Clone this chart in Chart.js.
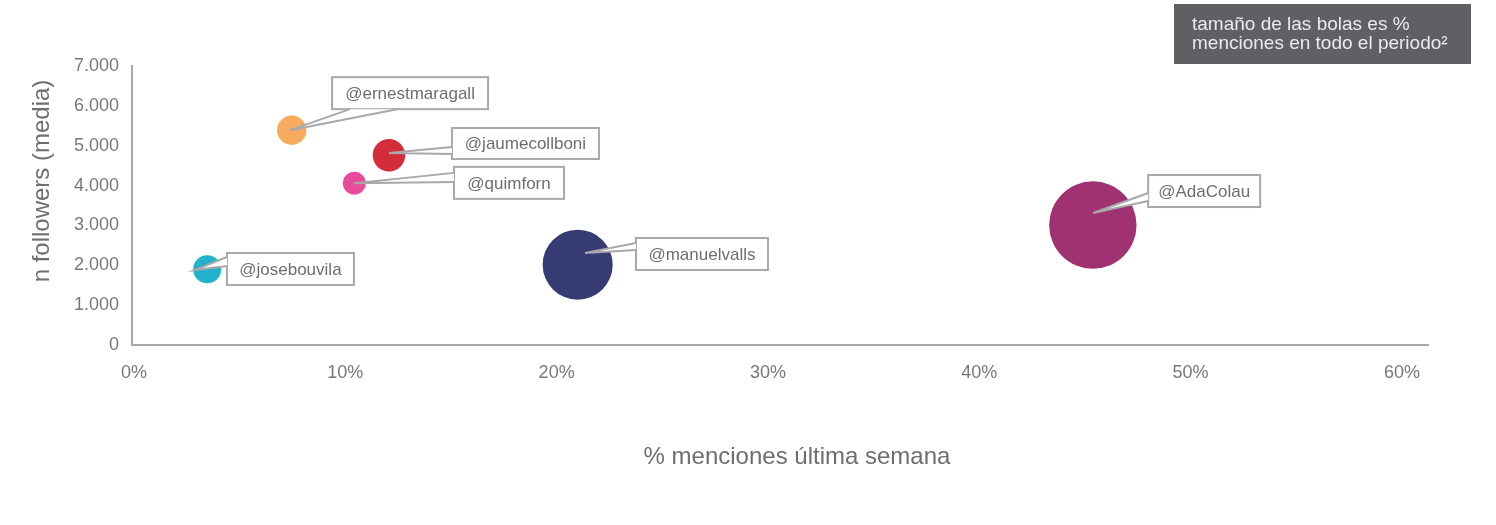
<!DOCTYPE html>
<html>
<head>
<meta charset="utf-8">
<script src="https://cdn.jsdelivr.net/npm/chart.js@4.4.0/dist/chart.umd.min.js"></script>
<style>
  body { margin: 0; background: #ffffff; }
  canvas { display: block; }
</style>
</head>
<body>
<canvas id="bubbleChart" width="1496" height="525"></canvas>
<script>
// data
var handles = ['@josebouvila', '@ernestmaragall', '@jaumecollboni', '@quimforn', '@manuelvalls', '@AdaColau'];
var mencionesSemana = [0.0356, 0.0756, 0.1216, 0.1052, 0.2109, 0.4547];
var followersMedia = [1900, 5390, 4760, 4060, 2015, 3010];
var mencionesPeriodo = [5.0, 5.5, 6.7, 3.3, 31.1, 48.4]; // bubble size, % of all mentions
var colores = ['#22b2cb', '#f6ab5e', '#d52c3c', '#ea4a9a', '#363b73', '#a13271'];
var xTicks = [0, 0.1, 0.2, 0.3, 0.4, 0.5, 0.6];
var yTicks = [0, 1000, 2000, 3000, 4000, 5000, 6000, 7000];

var FONT = "'Liberation Sans', Arial, sans-serif";
var GRIS_TEXTO = '#77787b';
var GRIS_LINEA = '#a7a9ab';
var MAX_RADIO = 43.7;

// callout layout, offsets from bubble centre: box [dx, dy, w, h], wedge base points, tip
var callouts = [
    { box: [19.7, -16.3, 127, 32], b1: [19.7, -12.3], b2: [19.7, -3.3], tip: [-12.3, 0.7] },
    { box: [40.3, -53, 156, 32], b1: [58.3, -21], b2: [105.3, -21], tip: [-1.7, 0] },
    { box: [63, -27.3, 147, 31], b1: [63, -8.3], b2: [63, -1.3], tip: [0, -2.3] },
    { box: [99.7, -16.3, 110, 32], b1: [99.7, -10.3], b2: [99.7, -1.3], tip: [0, 0] },
    { box: [58.3, -26.7, 132, 32], b1: [58.3, -21.7], b2: [58.3, -14.7], tip: [7.3, -11.7] },
    { box: [55.3, -50, 112, 32], b1: [55.3, -32], b2: [55.3, -24], tip: [0.3, -12] }
];

var maxSize = Math.max.apply(null, mencionesPeriodo);
var puntos = handles.map(function (h, i) {
    return {
        x: mencionesSemana[i],
        y: followersMedia[i],
        r: MAX_RADIO * Math.sqrt(mencionesPeriodo[i] / maxSize)
    };
});

var calloutPlugin = {
    id: 'callouts',
    afterDatasetsDraw: function (chart) {
        var ctx = chart.ctx;
        var meta = chart.getDatasetMeta(0);
        ctx.save();
        ctx.font = '17px ' + FONT;
        ctx.textAlign = 'center';
        ctx.textBaseline = 'middle';
        meta.data.forEach(function (el, i) {
            var c = callouts[i];
            var bx = el.x + c.box[0], by = el.y + c.box[1];
            // box
            ctx.fillStyle = '#ffffff';
            ctx.strokeStyle = GRIS_LINEA;
            ctx.lineWidth = 2;
            ctx.fillRect(bx, by, c.box[2], c.box[3]);
            ctx.strokeRect(bx, by, c.box[2], c.box[3]);
            // wedge pointing at the bubble
            ctx.beginPath();
            ctx.moveTo(el.x + c.b1[0], el.y + c.b1[1]);
            ctx.lineTo(el.x + c.tip[0], el.y + c.tip[1]);
            ctx.lineTo(el.x + c.b2[0], el.y + c.b2[1]);
            ctx.closePath();
            ctx.fill();
            ctx.beginPath();
            ctx.moveTo(el.x + c.b1[0], el.y + c.b1[1]);
            ctx.lineTo(el.x + c.tip[0], el.y + c.tip[1]);
            ctx.lineTo(el.x + c.b2[0], el.y + c.b2[1]);
            ctx.stroke();
            ctx.fillStyle = '#6d6e71';
            ctx.fillText(handles[i], bx + c.box[2] / 2, by + c.box[3] / 2 + 1);
        });
        ctx.restore();
    },
    afterDraw: function (chart) {
        var ctx = chart.ctx;
        ctx.save();
        // axis titles
        ctx.fillStyle = '#6d6e71';
        ctx.font = '24px ' + FONT;
        ctx.textAlign = 'center';
        ctx.textBaseline = 'middle';
        ctx.fillText('% menciones última semana', 797, 457);
        ctx.translate(42, 181);
        ctx.rotate(-Math.PI / 2);
        ctx.fillText('n followers (media)', 0, 0);
        ctx.restore();
        // note box top right
        ctx.save();
        ctx.fillStyle = '#5f6064';
        ctx.fillRect(1174, 4, 297, 60);
        ctx.fillStyle = '#ebebeb';
        ctx.font = '19px ' + FONT;
        ctx.textBaseline = 'middle';
        ctx.fillText('tamaño de las bolas es %', 1192, 25);
        ctx.fillText('menciones en todo el periodo²', 1192, 44);
        ctx.restore();
    }
};

var ctx = document.getElementById('bubbleChart').getContext('2d');
var chart = new Chart(ctx, {
    type: 'bubble',
    data: {
        datasets: [{
            label: '% menciones en todo el periodo',
            data: puntos,
            backgroundColor: colores,
            borderColor: colores,
            borderWidth: 0,
            hoverRadius: 0
        }]
    },
    options: {
        responsive: false,
        devicePixelRatio: 1,
        animation: false,
        events: [],
        layout: { padding: { left: 0, top: 66, right: 68, bottom: 0 } },
        plugins: {
            legend: { display: false },
            tooltip: { enabled: false }
        },
        scales: {
            x: {
                type: 'linear',
                min: 0,
                max: 0.6133,
                afterBuildTicks: function (scale) {
                    scale.ticks = xTicks.map(function (v) { return { value: v }; });
                },
                afterFit: function (scale) { scale.height = 180; },
                grid: { display: false, drawTicks: false },
                border: { display: true, color: GRIS_LINEA, width: 2 },
                ticks: {
                    padding: 17,
                    labelOffset: 2,
                    maxRotation: 0,
                    color: GRIS_TEXTO,
                    font: { family: FONT, size: 18 },
                    callback: function (v) { return Math.round(v * 100) + '%'; }
                }
            },
            y: {
                type: 'linear',
                min: 0,
                max: 7000,
                afterBuildTicks: function (scale) {
                    scale.ticks = yTicks.map(function (v) { return { value: v }; });
                },
                afterFit: function (scale) { scale.width = 132; },
                grid: { display: false, drawTicks: false },
                border: { display: true, color: GRIS_LINEA, width: 2 },
                ticks: {
                    padding: 13,
                    color: GRIS_TEXTO,
                    font: { family: FONT, size: 18 },
                    callback: function (v) { return v.toLocaleString('de-DE'); }
                }
            }
        }
    },
    plugins: [calloutPlugin]
});
</script>
</body>
</html>
